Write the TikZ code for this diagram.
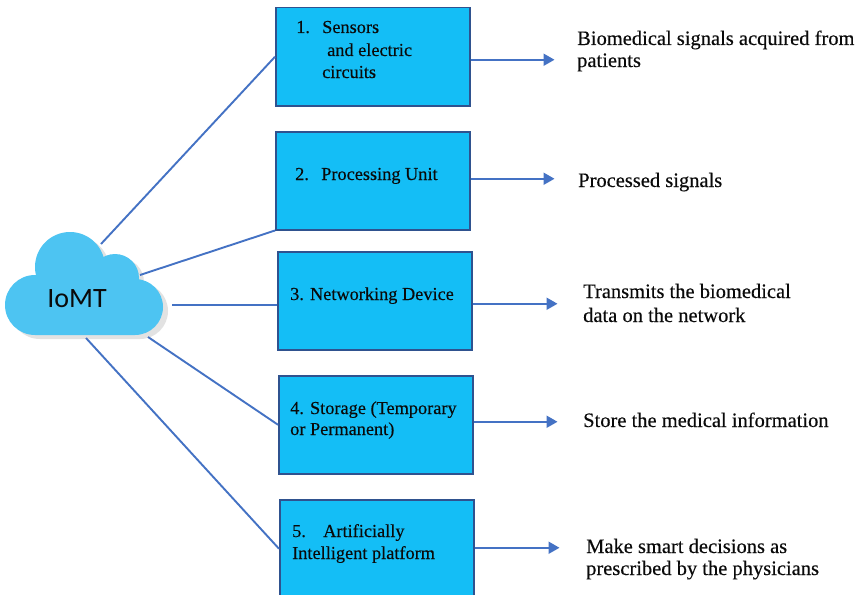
\documentclass[tikz,border=0pt]{standalone}
\usepackage{fontspec}
\setmainfont{Liberation Serif}[FakeBold=0.3]
\newfontfamily\cloudfont{Carlito}
\usetikzlibrary{arrows.meta}
\definecolor{boxfill}{HTML}{14BEF6}
\definecolor{boxedge}{HTML}{2F528F}
\definecolor{linkblue}{HTML}{4472C4}
\definecolor{cloudblue}{HTML}{4DC4F2}
\definecolor{cloudshade}{HTML}{E2E2E2}
\definecolor{inktext}{HTML}{0A0A0A}

\begin{document}
\begin{tikzpicture}[x=1pt,y=-1pt,
  stagebox/.style={draw=boxedge, line width=1.5pt, fill=boxfill,
    minimum width=194pt, minimum height=98pt, inner sep=0pt, anchor=north west},
  boxtext/.style={anchor=base west, inner sep=0pt, text=inktext,
    font=\fontsize{18.3}{22}\selectfont},
  outtext/.style={anchor=base west, inner sep=0pt, text=inktext,
    font=\fontsize{20.5}{24}\selectfont},
  link/.style={draw=linkblue, line width=1.9pt},
  flow/.style={link, -{Triangle[length=11pt,width=12pt]}},
]
\useasboundingbox[fill=white] (0,0) rectangle (864,594);

% cloud: shadow first, then the blue body
\begin{scope}[shift={(5,4)}]
  \fill[cloudshade] (70,267) circle[radius=35pt] (115,278) circle[radius=24pt]
    (135,307) circle[radius=28pt] (35,305) circle[radius=30pt]
    (35,285) rectangle (135,335);
\end{scope}
\fill[cloudblue] (70,267) circle[radius=35pt] (115,278) circle[radius=24pt]
  (135,307) circle[radius=28pt] (35,305) circle[radius=30pt]
  (35,285) rectangle (135,335);
\node[font=\cloudfont\fontsize{28}{30}\selectfont, anchor=base, inner sep=0pt, text=inktext]
  (iomt) at (77,307) {IoMT};

% cloud edge points where the links leave
\coordinate (c1) at (101,244);
\coordinate (c2) at (140,275);
\coordinate (c3) at (172,305);
\coordinate (c4) at (148,337);
\coordinate (c5) at (86,338);

% stage boxes
\node[stagebox] (b1) at (275,7) {};
\node[stagebox] (b2) at (275,131) {};
\node[stagebox] (b3) at (277,251) {};
\node[stagebox] (b4) at (278,375) {};
\node[stagebox] (b5) at (279,499) {};

% box labels
\node[boxtext] (t1a) at (296,33) {1.\hspace{12.3pt}Sensors};
\node[boxtext] (t1b) at (327,56) {and electric};
\node[boxtext] (t1c) at (322,78) {circuits};
\node[boxtext] (t2a) at (295,180) {2.\hspace{12.3pt}Processing Unit};
\node[boxtext] (t3a) at (290,300) {3. Networking Device};
\node[boxtext] (t4a) at (290,414) {4. Storage (Temporary};
\node[boxtext] (t4b) at (290,435) {or Permanent)};
\node[boxtext] (t5a) at (292,537) {5.\hspace{17.3pt}Artificially};
\node[boxtext] (t5b) at (292,559) {Intelligent platform};

% outputs
\node[outtext] (o1a) at (577,45) {Biomedical signals acquired from};
\node[outtext] (o1b) at (577,67) {patients};
\node[outtext] (o2a) at (578,187) {Processed signals};
\node[outtext] (o3a) at (583,298) {Transmits the biomedical};
\node[outtext] (o3b) at (583,322) {data on the network};
\node[outtext] (o4a) at (583,427) {Store the medical information};
\node[outtext] (o5a) at (586,553) {Make smart decisions as};
\node[outtext] (o5b) at (586,575) {prescribed by the physicians};

% links from the cloud
\draw[link] (c1) -- (b1.west);
\draw[link] (c2) -- (b2.south west);
\draw[link] (c3) -- (c3 -| b3.west);
\draw[link] (c4) -- (b4.west);
\draw[link] (c5) -- (b5.west);

% output arrows
\draw[flow] ([yshift=-3pt]b1.east) -- ++(84,0);
\draw[flow] ([yshift=2pt]b2.east) -- ++(84,0);
\draw[flow] ([yshift=-3pt]b3.east) -- ++(85,0);
\draw[flow] ([yshift=3pt]b4.east) -- ++(84,0);
\draw[flow] ([yshift=1pt]b5.east) -- ++(85,0);
\end{tikzpicture}
\end{document}
